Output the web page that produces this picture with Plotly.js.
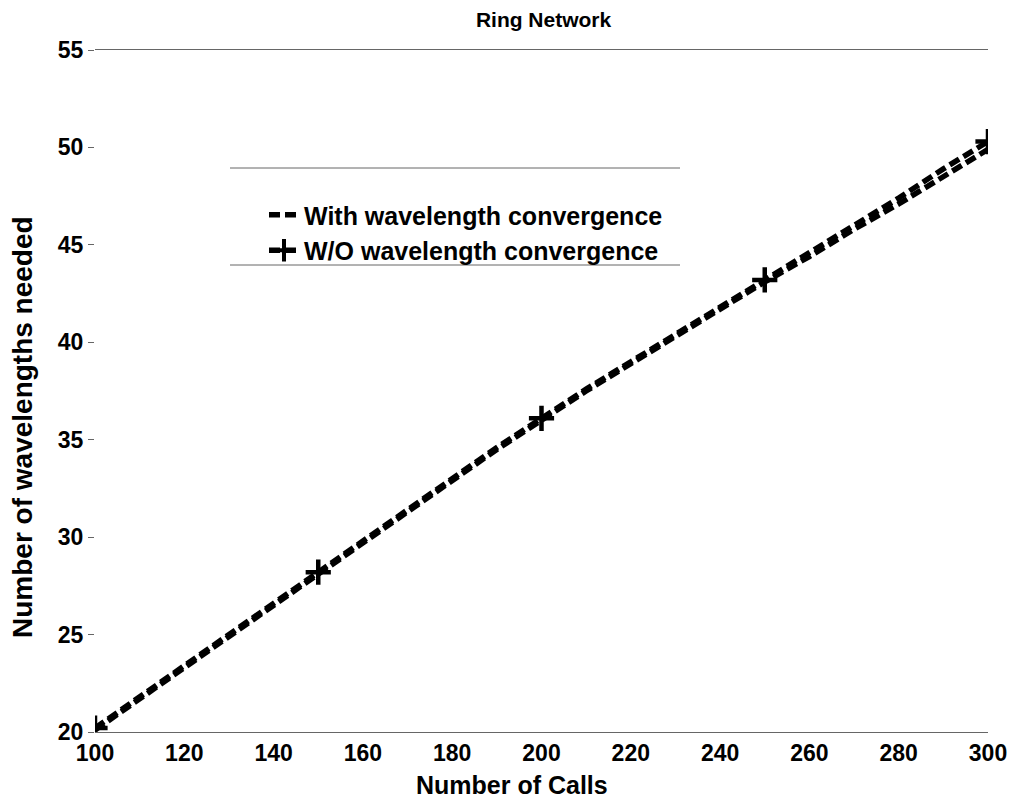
<!DOCTYPE html>
<html>
<head>
<meta charset="utf-8">
<script src="https://cdn.plot.ly/plotly-3.0.1.min.js"></script>
<style>body{margin:0;background:#fff}#chart{width:1016px;height:803px}</style>
</head>
<body>
<div id="chart"></div>
<script>
// Data
const calls = [100,110,120,130,140,150,160,170,180,190,200,210,220,230,240,250,260,270,280,290,300];
const withConv = [20.1,21.7,23.3,24.9,26.5,28.1,29.7,31.3,32.9,34.5,36.0,37.5,38.9,40.3,41.7,43.1,44.4,45.8,47.1,48.5,49.9];
const withoutConv = [20.2,21.8,23.4,25.0,26.6,28.2,29.8,31.4,33.0,34.6,36.1,37.6,39.0,40.4,41.8,43.2,44.6,46.0,47.4,48.9,50.3];
const markerCalls = [100,150,200,250,300];
const markerVals = [20.2,28.2,36.1,43.2,50.3];
const xTicks = [100,120,140,160,180,200,220,240,260,280,300];
const yTicks = [20,25,30,35,40,45,50,55];
const seriesNames = ['With wavelength convergence','W/O wavelength convergence'];

const FONT = 'Liberation Sans, Arial, sans-serif';
const dash = '11px,5px';
const L = 95, R = 988, T = 50, B = 732;
const px = v => (v - L) / (R - L);
const py = v => (B - v) / (B - T);

const traces = [
  {x: calls, y: withConv, mode: 'lines', name: seriesNames[0],
   line: {color: '#000', width: 5.5, dash: dash}, showlegend: true},
  {x: calls, y: withoutConv, mode: 'lines', name: seriesNames[1],
   line: {color: '#000', width: 5.5, dash: dash}, showlegend: false},
  {x: markerCalls, y: markerVals, mode: 'markers', name: seriesNames[1],
   marker: {symbol: 'cross-thin', size: 18, color: '#000', line: {color: '#000', width: 4.5}}, showlegend: false},
  {x: [null], y: [null], mode: 'lines+markers', name: seriesNames[1],
   line: {color: '#000', width: 5.5, dash: dash},
   marker: {symbol: 'cross-thin', size: 16, color: '#000', line: {color: '#000', width: 4}}, showlegend: true}
];

const layout = {
  width: 1016, height: 803,
  margin: {l: L, r: 1016 - R, t: T, b: 803 - B},
  paper_bgcolor: '#fff', plot_bgcolor: '#fff',
  font: {family: FONT, color: '#000', size: 22, weight: 'bold'},
  title: {text: 'Ring Network', x: 0.535, xanchor: 'center', y: 0.975, yanchor: 'middle', yref: 'container',
          font: {family: FONT, size: 21, weight: 'bold', color: '#000'}},
  xaxis: {range: [100, 300], tickvals: xTicks, ticktext: xTicks.map(String),
          showgrid: false, zeroline: false, showline: true, mirror: true, linecolor: '#666', linewidth: 1,
          ticks: '', tickfont: {family: FONT, size: 23, weight: 'bold'}},
  yaxis: {range: [20, 55], tickvals: yTicks, ticktext: yTicks.map(String),
          showgrid: false, zeroline: false, showline: false,
          ticks: 'outside', ticklen: 6, tickcolor: '#666', tickwidth: 1,
          tickfont: {family: FONT, size: 23, weight: 'bold'}},
  legend: {x: px(264), y: py(192), xanchor: 'left', yanchor: 'top', bgcolor: 'rgba(0,0,0,0)', borderwidth: 0,
           font: {family: FONT, size: 25, weight: 'bold', color: '#000'}},
  annotations: [
    {text: 'Number of Calls', xref: 'paper', yref: 'paper', x: px(512), y: py(785), xanchor: 'center', yanchor: 'middle',
     showarrow: false, font: {family: FONT, size: 25, weight: 'bold', color: '#000'}},
    {text: 'Number of wavelengths needed', xref: 'paper', yref: 'paper', x: px(23), y: py(427), xanchor: 'center', yanchor: 'middle',
     textangle: -90, showarrow: false, font: {family: FONT, size: 28, weight: 'bold', color: '#000'}}
  ],
  shapes: [
    {type: 'line', xref: 'paper', yref: 'paper', x0: px(230), x1: px(680), y0: py(168), y1: py(168), line: {color: '#666', width: 1}},
    {type: 'line', xref: 'paper', yref: 'paper', x0: px(230), x1: px(680), y0: py(265), y1: py(265), line: {color: '#666', width: 1}}
  ],
  showlegend: true
};

Plotly.newPlot('chart', traces, layout, {displayModeBar: false, staticPlot: true});
</script>
</body>
</html>
